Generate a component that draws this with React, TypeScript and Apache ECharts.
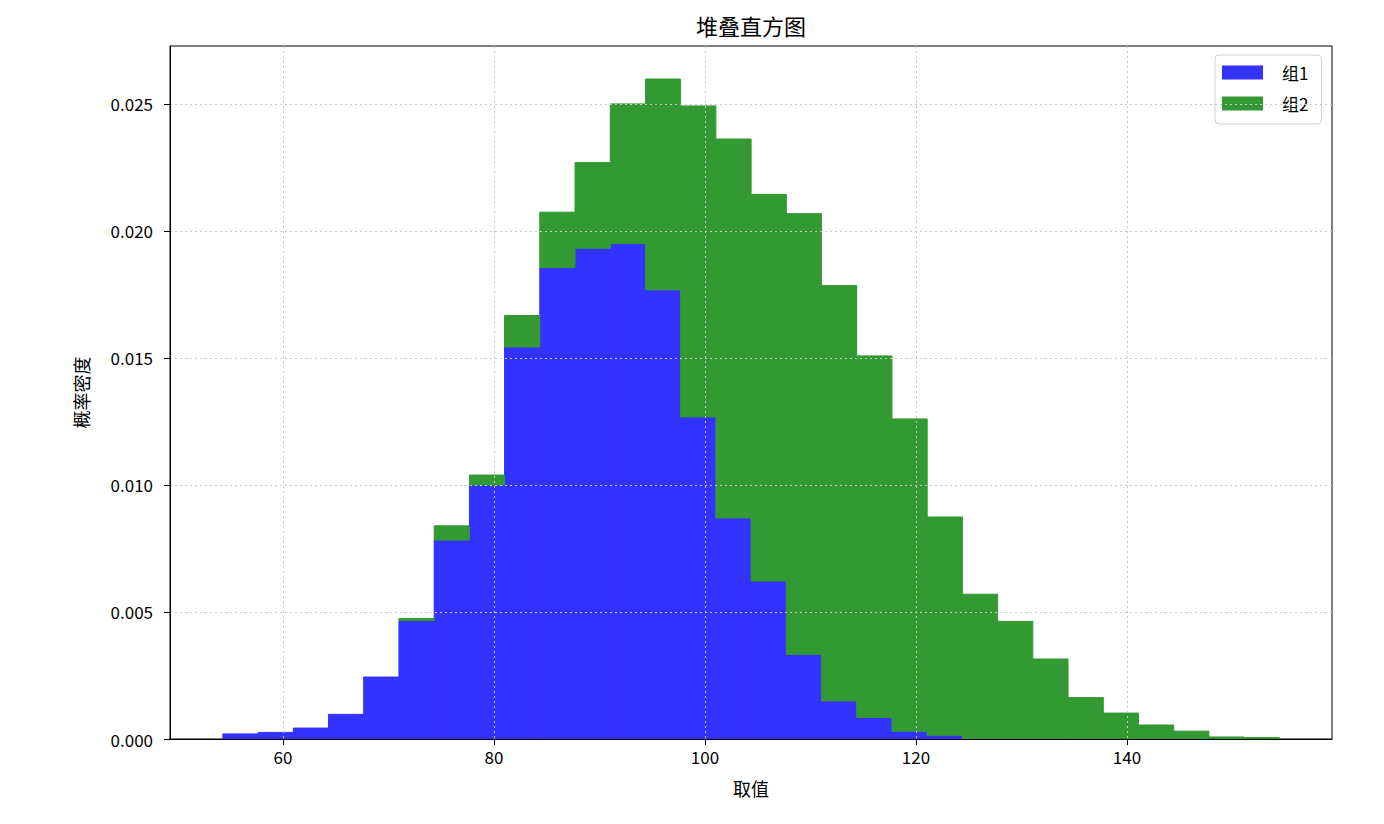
import React, { useEffect, useRef } from "react";
import * as echarts from "echarts";

const binEdges = [
  54.30, 57.64, 60.98, 64.31, 67.65, 70.99, 74.33, 77.67, 81.00, 84.34,
  87.68, 91.02, 94.36, 97.69, 101.03, 104.37, 107.71, 111.05, 114.38, 117.72,
  121.06, 124.40, 127.74, 131.07, 134.41, 137.75, 141.09, 144.43, 147.76, 151.10,
  154.44,
];

const group1 = [
  0.0002, 0.00026, 0.00043, 0.00097, 0.00244, 0.00466, 0.00783, 0.0100, 0.01543, 0.01856,
  0.01932, 0.0195, 0.01768, 0.01268, 0.0087, 0.00622, 0.00333, 0.0015, 0.00085, 0.00031,
  0.00015, 0, 0, 0, 0, 0, 0, 0, 0, 0,
];

const group2 = [
  0, 0, 0, 0, 0, 0.00008, 0.00056, 0.00039, 0.00124, 0.00218,
  0.00337, 0.0055, 0.0083, 0.01224, 0.01492, 0.01522, 0.01735, 0.01635, 0.01423, 0.01229,
  0.00859, 0.0057, 0.00463, 0.00315, 0.00163, 0.00102, 0.00055, 0.00031, 0.00008, 0.00006,
];

const seriesNames = ["组1", "组2"];
const seriesColors = ["#3333ff", "#339933"];
const xTicks = [60, 80, 100, 120, 140];
const yTicks = [0, 0.005, 0.01, 0.015, 0.02, 0.025];
const titleText = "堆叠直方图";
const xName = "取值";
const yName = "概率密度";

const FONT = '"Noto Sans CJK SC", "Noto Sans", sans-serif';

export default function App() {
  const ref = useRef<HTMLDivElement>(null);
  useEffect(() => {
    document.body.style.margin = "0";
    if (!ref.current) return;
    const chart = echarts.init(ref.current, null, { renderer: "svg" });

    const d1 = group1.map((v, i) => [binEdges[i], binEdges[i + 1], 0, v]);
    const d2 = group2.map((v, i) => [binEdges[i], binEdges[i + 1], group1[i], group1[i] + v]);

    const renderItem = (params: any, api: any) => {
      const x0 = api.value(0), x1 = api.value(1), y0 = api.value(2), y1 = api.value(3);
      if (y1 - y0 <= 0) return null;
      const p0 = api.coord([x0, y1]);
      const p1 = api.coord([x1, y0]);
      const c = api.visual("color");
      return {
        type: "rect",
        shape: { x: p0[0], y: p0[1], width: p1[0] - p0[0], height: p1[1] - p0[1] },
        style: { fill: c, stroke: c, lineWidth: 1 },
      };
    };

    const axisCommon = {
      z: 5,
      axisLine: { show: true, lineStyle: { color: "#000", width: 1 } },
      axisTick: { show: true, inside: false, length: 6, lineStyle: { color: "#000" } },
      splitLine: { show: true, lineStyle: { color: "#c8c8c8", type: [2, 3], width: 1 } },
      nameTextStyle: { fontFamily: FONT, fontSize: 18, color: "#000" },
    };

    chart.setOption({
      animation: false,
      graphic: [
        {
          type: "text",
          x: 751,
          y: 25,
          style: {
            text: titleText,
            font: `22px ${FONT}`,
            fill: "#000",
            textAlign: "center",
            textVerticalAlign: "middle",
          },
        },
      ],
      grid: {
        left: 170,
        right: 52,
        top: 46,
        bottom: 85,
        show: true,
        borderColor: "#000",
        borderWidth: 1,
        backgroundColor: "transparent",
      },
      legend: {
        orient: "vertical",
        left: 1215,
        top: 55,
        itemWidth: 41,
        itemHeight: 14,
        itemGap: 14,
        padding: [9, 13, 12, 7],
        borderColor: "#d0d0d0",
        borderWidth: 1,
        borderRadius: 4,
        backgroundColor: "#fff",
        icon: "rect",
        data: seriesNames,
        textStyle: { fontFamily: FONT, fontSize: 17, color: "#000", padding: [0, 0, 0, 14], lineHeight: 14 },
      },
      xAxis: {
        ...axisCommon,
        type: "value",
        min: 49.29,
        max: 159.43,
        name: xName,
        nameLocation: "middle",
        nameGap: 40,
        axisTick: { ...axisCommon.axisTick, customValues: xTicks },
        axisLabel: {
          customValues: xTicks,
          fontFamily: FONT,
          fontSize: 17,
          color: "#000",
          margin: 9,
        },
      },
      yAxis: {
        ...axisCommon,
        type: "value",
        min: 0,
        max: 0.02728,
        name: yName,
        nameLocation: "middle",
        nameGap: 80,
        nameRotate: 90,
        axisTick: { ...axisCommon.axisTick, customValues: yTicks },
        axisLabel: {
          customValues: yTicks,
          fontFamily: FONT,
          fontSize: 17,
          color: "#000",
          margin: 17,
          formatter: (v: number) => v.toFixed(3),
        },
      },
      series: [
        {
          type: "custom",
          name: seriesNames[0],
          renderItem,
          itemStyle: { color: seriesColors[0] },
          encode: { x: [0, 1], y: [2, 3] },
          data: d1,
          z: 2,
        },
        {
          type: "custom",
          name: seriesNames[1],
          renderItem,
          itemStyle: { color: seriesColors[1] },
          encode: { x: [0, 1], y: [2, 3] },
          data: d2,
          z: 2,
        },
      ],
    });
    return () => chart.dispose();
  }, []);
  return <div ref={ref} style={{ width: 1384, height: 824 }} />;
}
